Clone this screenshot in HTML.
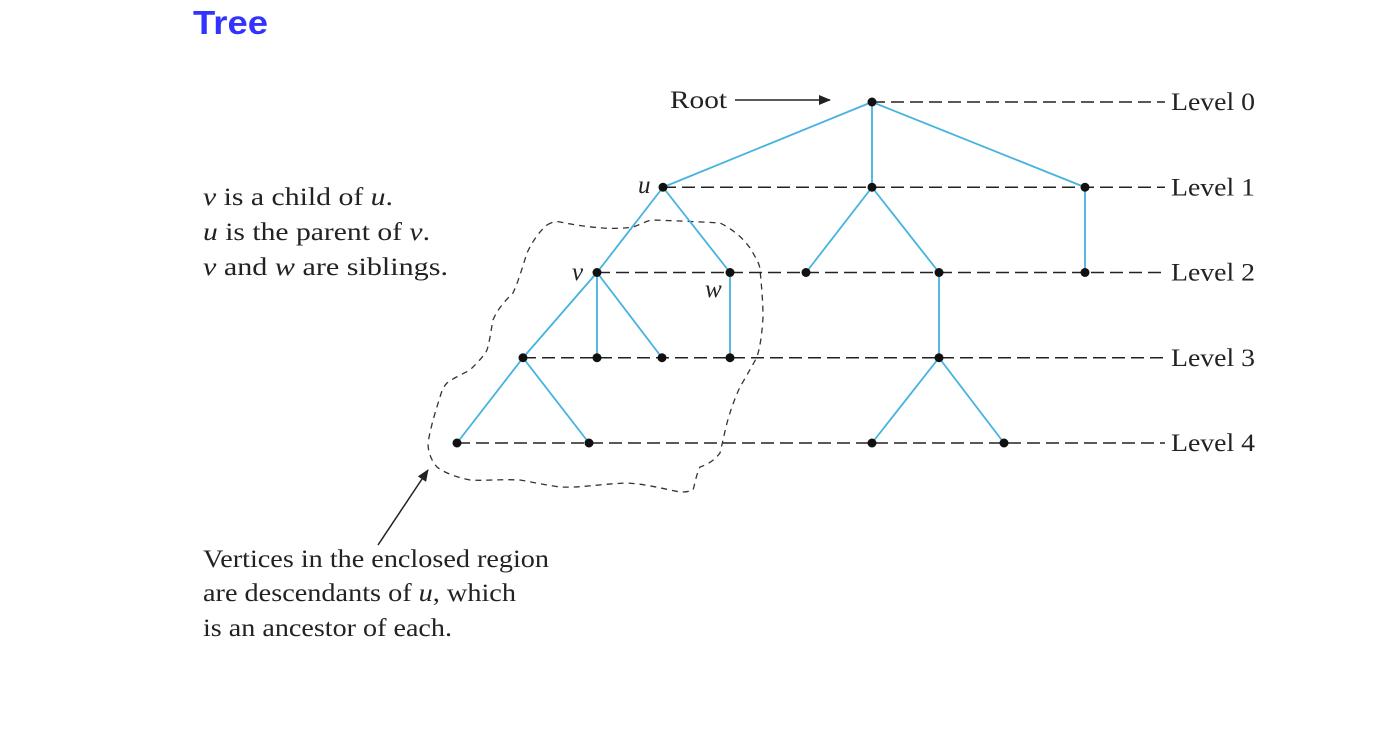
<!DOCTYPE html>
<html><head><meta charset="utf-8"><style>
body{margin:0;background:#fff;}
svg{display:block}
</style></head><body>
<svg width="1385" height="729" viewBox="0 0 1385 729" id="svg">
<text x="193" y="34" font-family="Liberation Sans, sans-serif" font-weight="bold" font-size="33" textLength="75" lengthAdjust="spacingAndGlyphs" fill="#3333ff">Tree</text>
<path d="M547,225 C552,222 556,221 560,222 C590,228 615,230 633,227 C642,224 648,220 653,220 C680,221 705,222 720,223 C735,230 748,243 753,253 C757,260 760,265 760,270 C762,290 763,305 763,317 C762,335 760,347 757,357 C750,370 744,380 740,387 C734,400 730,412 727,423 C724,435 722,445 720,453 C713,462 706,465 700,467 C696,475 695,484 693,490 C688,492 684,492 680,492 C660,488 645,484 627,483 C600,484 580,488 560,487 C545,485 532,482 520,480 C500,479 485,481 470,480 C455,477 443,472 437,467 C431,460 428,452 428,443 C431,425 436,410 440,397 C442,390 444,386 447,383 C455,377 463,374 470,370 C478,362 484,356 487,350 C490,340 491,330 493,320 C498,308 506,300 513,293 C519,280 523,265 527,253 C533,240 540,231 547,225 Z" fill="none" stroke="#333" stroke-width="1.3" stroke-dasharray="6,5"/>
<g id="dash"></g><g id="edges"></g><g id="nodes"></g><g id="labels"></g>
<g font-family="Liberation Serif, serif" font-size="25" fill="#222">
<text x="670" y="108" textLength="57" lengthAdjust="spacingAndGlyphs">Root</text>
<text x="638" y="193" font-style="italic">u</text>
<text x="572" y="280" font-style="italic">v</text>
<text x="705" y="297" font-style="italic">w</text>
<g>
<text x="203" y="205" textLength="190" lengthAdjust="spacingAndGlyphs"><tspan font-style="italic">v</tspan> is a child of <tspan font-style="italic">u</tspan>.</text>
<text x="203" y="240" textLength="227" lengthAdjust="spacingAndGlyphs"><tspan font-style="italic">u</tspan> is the parent of <tspan font-style="italic">v</tspan>.</text>
<text x="203" y="275" textLength="245" lengthAdjust="spacingAndGlyphs"><tspan font-style="italic">v</tspan> and <tspan font-style="italic">w</tspan> are siblings.</text>
</g>
<g>
<text x="203" y="567" textLength="346" lengthAdjust="spacingAndGlyphs">Vertices in the enclosed region</text>
<text x="203" y="601" textLength="313" lengthAdjust="spacingAndGlyphs">are descendants of <tspan font-style="italic">u</tspan>, which</text>
<text x="203" y="636" textLength="249" lengthAdjust="spacingAndGlyphs">is an ancestor of each.</text>
</g>
</g>
<defs><marker id="ah" markerWidth="12" markerHeight="10" refX="11" refY="5" orient="auto" markerUnits="userSpaceOnUse"><path d="M0,0 L12,5 L0,10 Z" fill="#222"/></marker></defs>
<line x1="735" y1="100" x2="830" y2="100" stroke="#222" stroke-width="1.5" marker-end="url(#ah)"/>
<line x1="378" y1="545" x2="428" y2="470" stroke="#222" stroke-width="1.5" marker-end="url(#ah)"/>
</svg>
<script>
const levelNames=["Level 0","Level 1","Level 2","Level 3","Level 4"];
const nodeLevel=[0,1,1,1,2,2,2,2,2,3,3,3,3,3,4,4,4,4];
const nodeX=[872,663,872,1085,597,730,806,939,1085,523,597,662,730,939,457,589,872,1004];
const edgeFrom=[0,0,0,1,1,2,2,3,4,4,4,5,7,9,9,13,13];
const edgeTo=[1,2,3,4,5,6,7,8,9,10,11,12,13,14,15,16,17];
const levelY=l=>102+l*85.25;
const NS="http://www.w3.org/2000/svg";
function mk(t,a,p){const e=document.createElementNS(NS,t);for(const k in a)e.setAttribute(k,a[k]);document.getElementById(p).appendChild(e);return e;}
levelNames.forEach((n,l)=>{
  const xs=nodeX.filter((x,i)=>nodeLevel[i]===l);const x0=Math.min(...xs);
  const y=levelY(l);
  const d=mk('line',{x1:x0,y1:y,x2:1165,y2:y,stroke:'#222','stroke-width':1.4,'stroke-dasharray':'13,6'},'dash');
  
  
  const t=mk('text',{x:1171,y:y+8,'font-family':'Liberation Serif, serif','font-size':25,fill:'#222',textLength:84,lengthAdjust:'spacingAndGlyphs'},'labels');
  t.textContent=n;
  
  
});
edgeFrom.forEach((f,i)=>{const t=edgeTo[i];
  const e=mk('line',{x1:nodeX[f],y1:levelY(nodeLevel[f]),x2:nodeX[t],y2:levelY(nodeLevel[t]),stroke:'#45b3e0','stroke-width':1.8},'edges');
  
  
});
nodeX.forEach((x,i)=>{
  const c=mk('circle',{cx:x,cy:levelY(nodeLevel[i]),r:4.5,fill:'#111'},'nodes');
  
  
});
</script>
</body></html>
